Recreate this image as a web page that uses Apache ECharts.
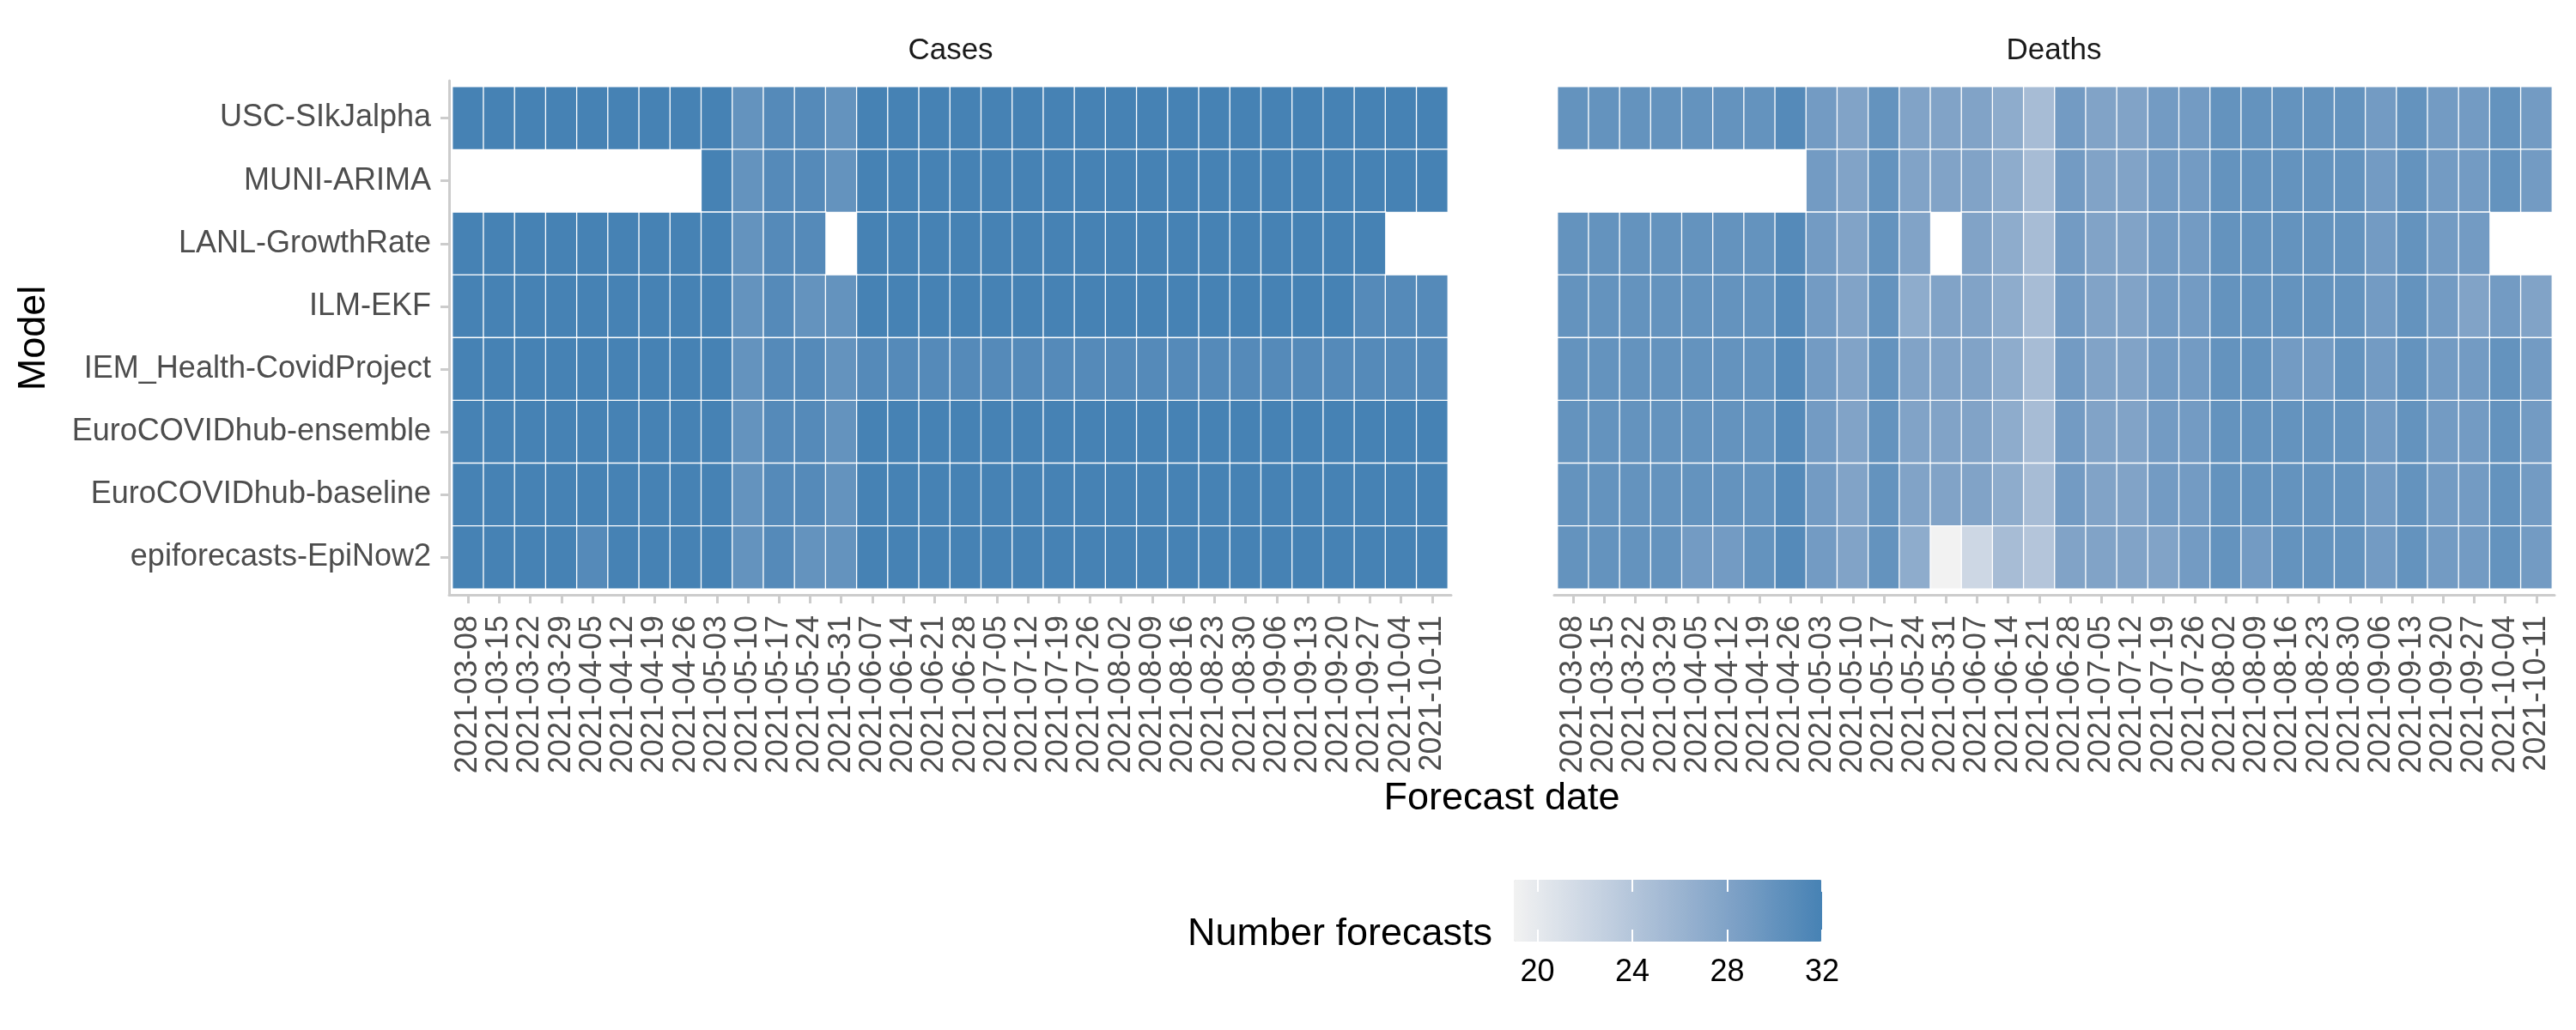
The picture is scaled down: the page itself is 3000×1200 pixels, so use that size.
<!DOCTYPE html>
<html>
<head>
<meta charset="utf-8">
<script src="https://cdn.jsdelivr.net/npm/echarts@6/dist/echarts.min.js"></script>
<style>
  html, body { margin: 0; padding: 0; background: #ffffff; }
  #chart { width: 3000px; height: 1200px; }
</style>
</head>
<body>
<div id="chart"></div>
<script>
// ---- Data ----
const dates = [
  '2021-03-08','2021-03-15','2021-03-22','2021-03-29','2021-04-05','2021-04-12','2021-04-19','2021-04-26',
  '2021-05-03','2021-05-10','2021-05-17','2021-05-24','2021-05-31','2021-06-07','2021-06-14','2021-06-21',
  '2021-06-28','2021-07-05','2021-07-12','2021-07-19','2021-07-26','2021-08-02','2021-08-09','2021-08-16',
  '2021-08-23','2021-08-30','2021-09-06','2021-09-13','2021-09-20','2021-09-27','2021-10-04','2021-10-11'
];

// listed top to bottom as in the picture
const models = [
  'USC-SIkJalpha',
  'MUNI-ARIMA',
  'LANL-GrowthRate',
  'ILM-EKF',
  'IEM_Health-CovidProject',
  'EuroCOVIDhub-ensemble',
  'EuroCOVIDhub-baseline',
  'epiforecasts-EpiNow2'
];

const panels = ['Cases', 'Deaths'];

// Number of forecasts, one row per model (same order as models), null = no forecast
const casesCounts = [
  [32,32,32,32,32,32,32,32,32,30,31,31,30,32,32,32,32,32,32,32,32,32,32,32,32,32,32,32,32,32,32,32],
  [null,null,null,null,null,null,null,null,32,30,31,31,30,32,32,32,32,32,32,32,32,32,32,32,32,32,32,32,32,32,32,32],
  [32,32,32,32,32,32,32,32,32,30,31,31,null,32,32,32,32,32,32,32,32,32,32,32,32,32,32,32,32,32,null,null],
  [32,32,32,32,32,32,32,32,32,30,31,30,30,32,32,32,32,32,32,32,32,32,32,32,32,32,32,32,32,31,31,31],
  [32,32,32,32,32,32,32,32,32,30,31,31,30,31,31,31,31,31,31,31,31,31,31,31,31,31,31,31,31,31,31,31],
  [32,32,32,32,32,32,32,32,32,30,31,31,30,32,32,32,32,32,32,32,32,32,32,32,32,32,32,32,32,32,32,32],
  [32,32,32,32,32,32,32,32,32,30,31,31,30,32,32,32,32,32,32,32,32,32,32,32,32,32,32,32,32,32,32,32],
  [32,32,32,32,31,32,32,32,32,30,31,30,30,32,32,32,32,32,32,32,32,32,32,32,32,32,32,32,32,32,32,32]
];

const deathsCounts = [
  [30,30,30,30,30,30,30,31,29,28,30,28,28,28,27,25,29,28,28,29,29,30,30,30,30,30,29,30,29,29,30,29],
  [null,null,null,null,null,null,null,null,29,28,30,28,28,28,27,25,29,28,28,29,29,30,30,30,30,30,29,30,29,29,30,29],
  [30,30,30,30,30,30,30,31,29,28,30,28,null,28,27,25,29,28,28,29,29,30,30,30,30,30,29,30,29,29,null,null],
  [30,30,30,30,30,30,30,31,29,28,30,27,28,28,27,25,29,28,28,29,29,30,30,30,30,30,29,30,29,28,29,28],
  [30,30,30,30,30,30,30,31,29,28,30,28,28,28,27,25,29,28,28,29,29,30,30,29,29,30,29,30,29,29,30,29],
  [30,30,30,30,30,30,30,31,29,28,30,28,28,28,27,25,29,28,28,29,29,30,30,30,30,30,29,30,29,29,30,29],
  [30,30,30,30,30,30,30,31,29,28,30,28,28,28,27,25,29,28,28,29,29,30,30,30,30,30,29,30,29,29,30,29],
  [30,30,30,30,29,29,30,31,29,28,30,27,19,22,25,24,28,28,28,28,29,30,29,30,30,30,29,30,29,29,30,29]
];

const legendTicks = [20, 24, 28, 32];
const scaleMin = 19;
const scaleMax = 32;

// ---- Build heatmap tuples ----
function toTriples(rows) {
  const out = [];
  rows.forEach((row, yi) => {
    row.forEach((v, xi) => {
      if (v !== null) out.push([xi, yi, v]);
    });
  });
  return out;
}

const FONT = 'Liberation Sans';
const GRID_LINE = '#cccccc';

function tileXAxis(gridIndex) {
  return {
    gridIndex, type: 'category', data: dates, offset: 7,
    axisLine: { show: false },
    axisTick: { show: true, alignWithLabel: true, length: 10, lineStyle: { color: GRID_LINE, width: 3 } },
    axisLabel: { interval: 0, rotate: 90, margin: 24, fontSize: 36, color: '#4d4d4d', fontFamily: FONT, padding: [24, 0, 0, 0] },
    splitLine: { show: false }
  };
}

const chart = echarts.init(document.getElementById('chart'), null, { renderer: 'canvas' });

const option = {
  backgroundColor: '#ffffff',
  animation: false,
  textStyle: { fontFamily: FONT },
  grid: [
    { left: 527, top: 101, width: 1159, height: 585 },   // Cases tiles
    { left: 1814, top: 101, width: 1158, height: 585 },  // Deaths tiles
    { left: 523, top: 94, width: 1167, height: 599 },    // Cases panel frame
    { left: 1810, top: 94, width: 1165, height: 599 },   // Deaths panel frame
    { left: 1763, top: 1025, width: 359, height: 72 }    // colour bar scale
  ],
  xAxis: [
    tileXAxis(0),
    tileXAxis(1),
    { gridIndex: 2, type: 'category', data: dates, axisLine: { show: true, lineStyle: { color: GRID_LINE, width: 3 } }, axisTick: { show: false }, axisLabel: { show: false }, splitLine: { show: false } },
    { gridIndex: 3, type: 'category', data: dates, axisLine: { show: true, lineStyle: { color: GRID_LINE, width: 3 } }, axisTick: { show: false }, axisLabel: { show: false }, splitLine: { show: false } },
    { gridIndex: 4, type: 'value', min: scaleMin, max: scaleMax, position: 'bottom', z: 10,
      axisLine: { show: false },
      axisTick: { show: true, inside: true, length: 14, customValues: legendTicks, lineStyle: { color: '#ffffff', width: 2 } },
      axisLabel: { show: true, customValues: legendTicks, fontSize: 36, color: '#000000', margin: 18, fontFamily: FONT },
      splitLine: { show: false } },
    { gridIndex: 4, type: 'value', min: scaleMin, max: scaleMax, position: 'top', z: 10,
      axisLine: { show: false },
      axisTick: { show: true, inside: true, length: 14, customValues: legendTicks, lineStyle: { color: '#ffffff', width: 2 } },
      axisLabel: { show: false },
      splitLine: { show: false } }
  ],
  yAxis: [
    { gridIndex: 0, type: 'category', data: models, inverse: true, offset: 4,
      axisLine: { show: false },
      axisTick: { show: true, alignWithLabel: true, length: 10, lineStyle: { color: GRID_LINE, width: 3 } },
      axisLabel: { margin: 21, fontSize: 36, color: '#4d4d4d', fontFamily: FONT },
      splitLine: { show: false } },
    { gridIndex: 1, type: 'category', data: models, inverse: true,
      axisLine: { show: false }, axisTick: { show: false }, axisLabel: { show: false }, splitLine: { show: false } },
    { gridIndex: 2, type: 'category', data: models,
      axisLine: { show: true, lineStyle: { color: GRID_LINE, width: 3 } }, axisTick: { show: false }, axisLabel: { show: false }, splitLine: { show: false } },
    { gridIndex: 3, type: 'category', data: models,
      axisLine: { show: false }, axisTick: { show: false }, axisLabel: { show: false }, splitLine: { show: false } },
    { gridIndex: 4, type: 'value', show: false }
  ],
  visualMap: {
    type: 'continuous',
    min: scaleMin, max: scaleMax,
    seriesIndex: [0, 1],
    orient: 'horizontal',
    left: 1763, top: 1025,
    itemWidth: 72, itemHeight: 359,
    padding: 0,
    calculable: false,
    realtime: false,
    text: null,
    showLabel: false,
    inRange: { color: ['#F2F2F2', '#CAD5E3', '#A1B8D3', '#779DC4', '#4682B4'] }
  },
  series: [
    { name: panels[0], type: 'heatmap', xAxisIndex: 0, yAxisIndex: 0, data: toTriples(casesCounts),
      itemStyle: { borderColor: '#ffffff', borderWidth: 1.3 }, emphasis: { disabled: true }, progressive: 0 },
    { name: panels[1], type: 'heatmap', xAxisIndex: 1, yAxisIndex: 1, data: toTriples(deathsCounts),
      itemStyle: { borderColor: '#ffffff', borderWidth: 1.3 }, emphasis: { disabled: true }, progressive: 0 }
  ],
  graphic: [
    { type: 'text', x: 1107, y: 59, style: { text: panels[0], fontSize: 35, fontFamily: FONT, fill: '#1a1a1a', align: 'center', verticalAlign: 'middle' } },
    { type: 'text', x: 2392, y: 59, style: { text: panels[1], fontSize: 35, fontFamily: FONT, fill: '#1a1a1a', align: 'center', verticalAlign: 'middle' } },
    { type: 'text', x: 40, y: 394, rotation: Math.PI / 2, style: { text: 'Model', fontSize: 45, fontFamily: FONT, fill: '#000000', align: 'center', verticalAlign: 'middle' } },
    { type: 'text', x: 1749, y: 931, style: { text: 'Forecast date', fontSize: 45, fontFamily: FONT, fill: '#000000', align: 'center', verticalAlign: 'middle' } },
    { type: 'text', x: 1738, y: 1089, style: { text: 'Number forecasts', fontSize: 45, fontFamily: FONT, fill: '#000000', align: 'right', verticalAlign: 'middle' } }
  ]
};

chart.setOption(option);
</script>
</body>
</html>
